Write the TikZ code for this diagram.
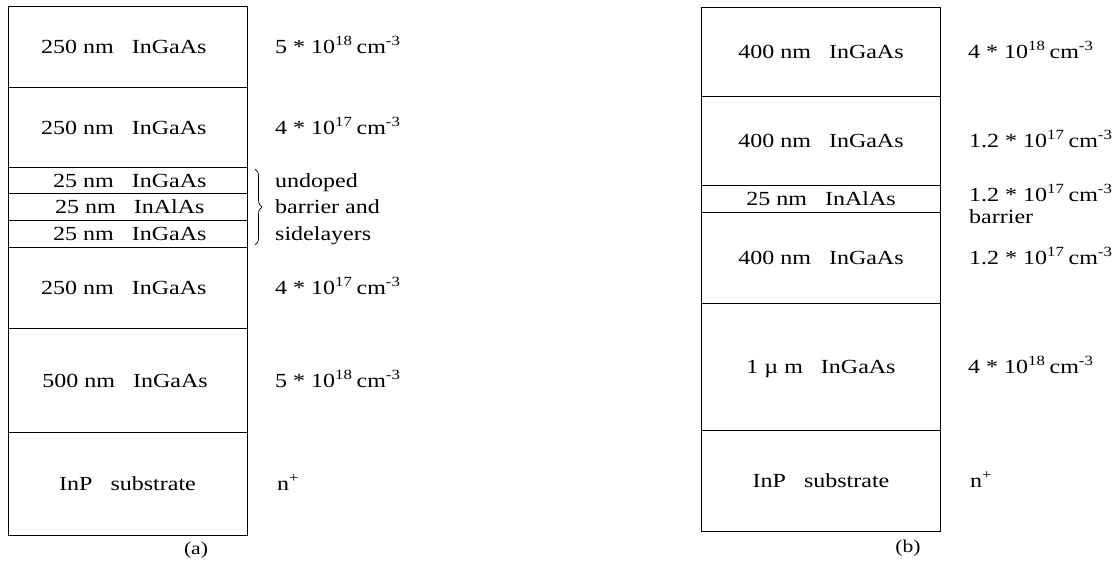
\documentclass[tikz,border=0pt]{standalone}
\usepackage{fontspec}
\setmainfont{Liberation Serif}
\usepackage{graphicx}
\usetikzlibrary{decorations.pathreplacing}
\newcommand{\hs}[1]{\scalebox{1.2}[1]{#1}}
\newcommand{\gp}{\hspace{0.75em}}
\newcommand{\dop}[2]{#1 * 10\textsuperscript{#2}\,cm\textsuperscript{-3}}
\tikzset{
  basetxt/.style={inner sep=0pt, text height=14pt, text depth=0pt, font=\fontsize{20}{23}\selectfont},
  layer/.style={basetxt, draw, line width=0.8pt, minimum width=239pt, anchor=center},
  lbl/.style={basetxt, anchor=west},
  captxt/.style={inner sep=0pt, font=\fontsize{18}{20}\selectfont}
}
\begin{document}
\begin{tikzpicture}[x=1pt,y=-1pt]
\useasboundingbox (0,0) rectangle (1117,570);
% ---- (a) ----
\node[layer, minimum height=81pt] (a1) at (127.5,46.5) {\hs{250 nm\gp InGaAs\hspace{6pt}}};
\node[layer, minimum height=80pt] (a2) at (127.5,127) {\hs{250 nm\gp InGaAs\hspace{6pt}}};
\node[layer, minimum height=26pt] (a3) at (127.5,180) {\hs{\hspace{4pt}25 nm\gp InGaAs}};
\node[layer, minimum height=27pt] (a4) at (127.5,206.5) {\hs{\hspace{4pt}25 nm\gp InAlAs}};
\node[layer, minimum height=27pt] (a5) at (127.5,233.5) {\hs{\hspace{4pt}25 nm\gp InGaAs}};
\node[layer, minimum height=81pt] (a6) at (127.5,287.5) {\hs{250 nm\gp InGaAs\hspace{6pt}}};
\node[layer, minimum height=104pt] (a7) at (127.5,380) {\hs{500 nm\gp InGaAs\hspace{4pt}}};
\node[layer, minimum height=103pt] (a8) at (127.5,483.5) {\hs{InP\gp substrate}};
\node[lbl] (da1) at (275,46.5) {\hs{\dop{5}{18}}};
\node[lbl] (da2) at (275,127) {\hs{\dop{4}{17}}};
\node[lbl] (ua) at (275,180) {\hs{undoped}};
\node[lbl] (ub) at (275,206.5) {\hs{barrier and}};
\node[lbl] (uc) at (275,233.5) {\hs{sidelayers}};
\node[lbl] (da6) at (275,287.5) {\hs{\dop{4}{17}}};
\node[lbl] (da7) at (275,380) {\hs{\dop{5}{18}}};
\node[lbl] (da8) at (277,483.5) {\hs{n\textsuperscript{+}}};
\coordinate (bt) at (255,169);
\coordinate (bb) at (255,245);
\draw[line width=0.7pt, decorate, decoration={brace, amplitude=7pt}] (bt) -- (bb);
\node[captxt] (capa) at (196,550) {\hs{(a)}};
% ---- (b) ----
\node[layer, minimum height=89pt] (b1) at (821,51.5) {\hs{400 nm\gp InGaAs}};
\node[layer, minimum height=89pt] (b2) at (821,140.5) {\hs{400 nm\gp InGaAs}};
\node[layer, minimum height=27pt] (b3) at (821,198.5) {\hs{25 nm\gp InAlAs}};
\node[layer, minimum height=91pt] (b4) at (821,257.5) {\hs{400 nm\gp InGaAs}};
\node[layer, minimum height=127pt] (b5) at (821,366.5) {\hs{1 µ m\gp InGaAs}};
\node[layer, minimum height=101pt] (b6) at (821,480.5) {\hs{InP\gp substrate}};
\node[lbl] (db1) at (968,51.5) {\hs{\dop{4}{18}}};
\node[lbl] (db2) at (969,140.5) {\hs{\dop{1.2}{17}}};
\node[lbl] (db3) at (969,194.5) {\hs{\dop{1.2}{17}}};
\node[lbl] (bar) at (969,216) {\hs{barrier}};
\node[lbl] (db4) at (969,257.5) {\hs{\dop{1.2}{17}}};
\node[lbl] (db5) at (968,366.5) {\hs{\dop{4}{18}}};
\node[lbl] (db6) at (970,480.5) {\hs{n\textsuperscript{+}}};
\node[captxt] (capb) at (908,548) {\hs{(b)}};
\end{tikzpicture}
\end{document}
